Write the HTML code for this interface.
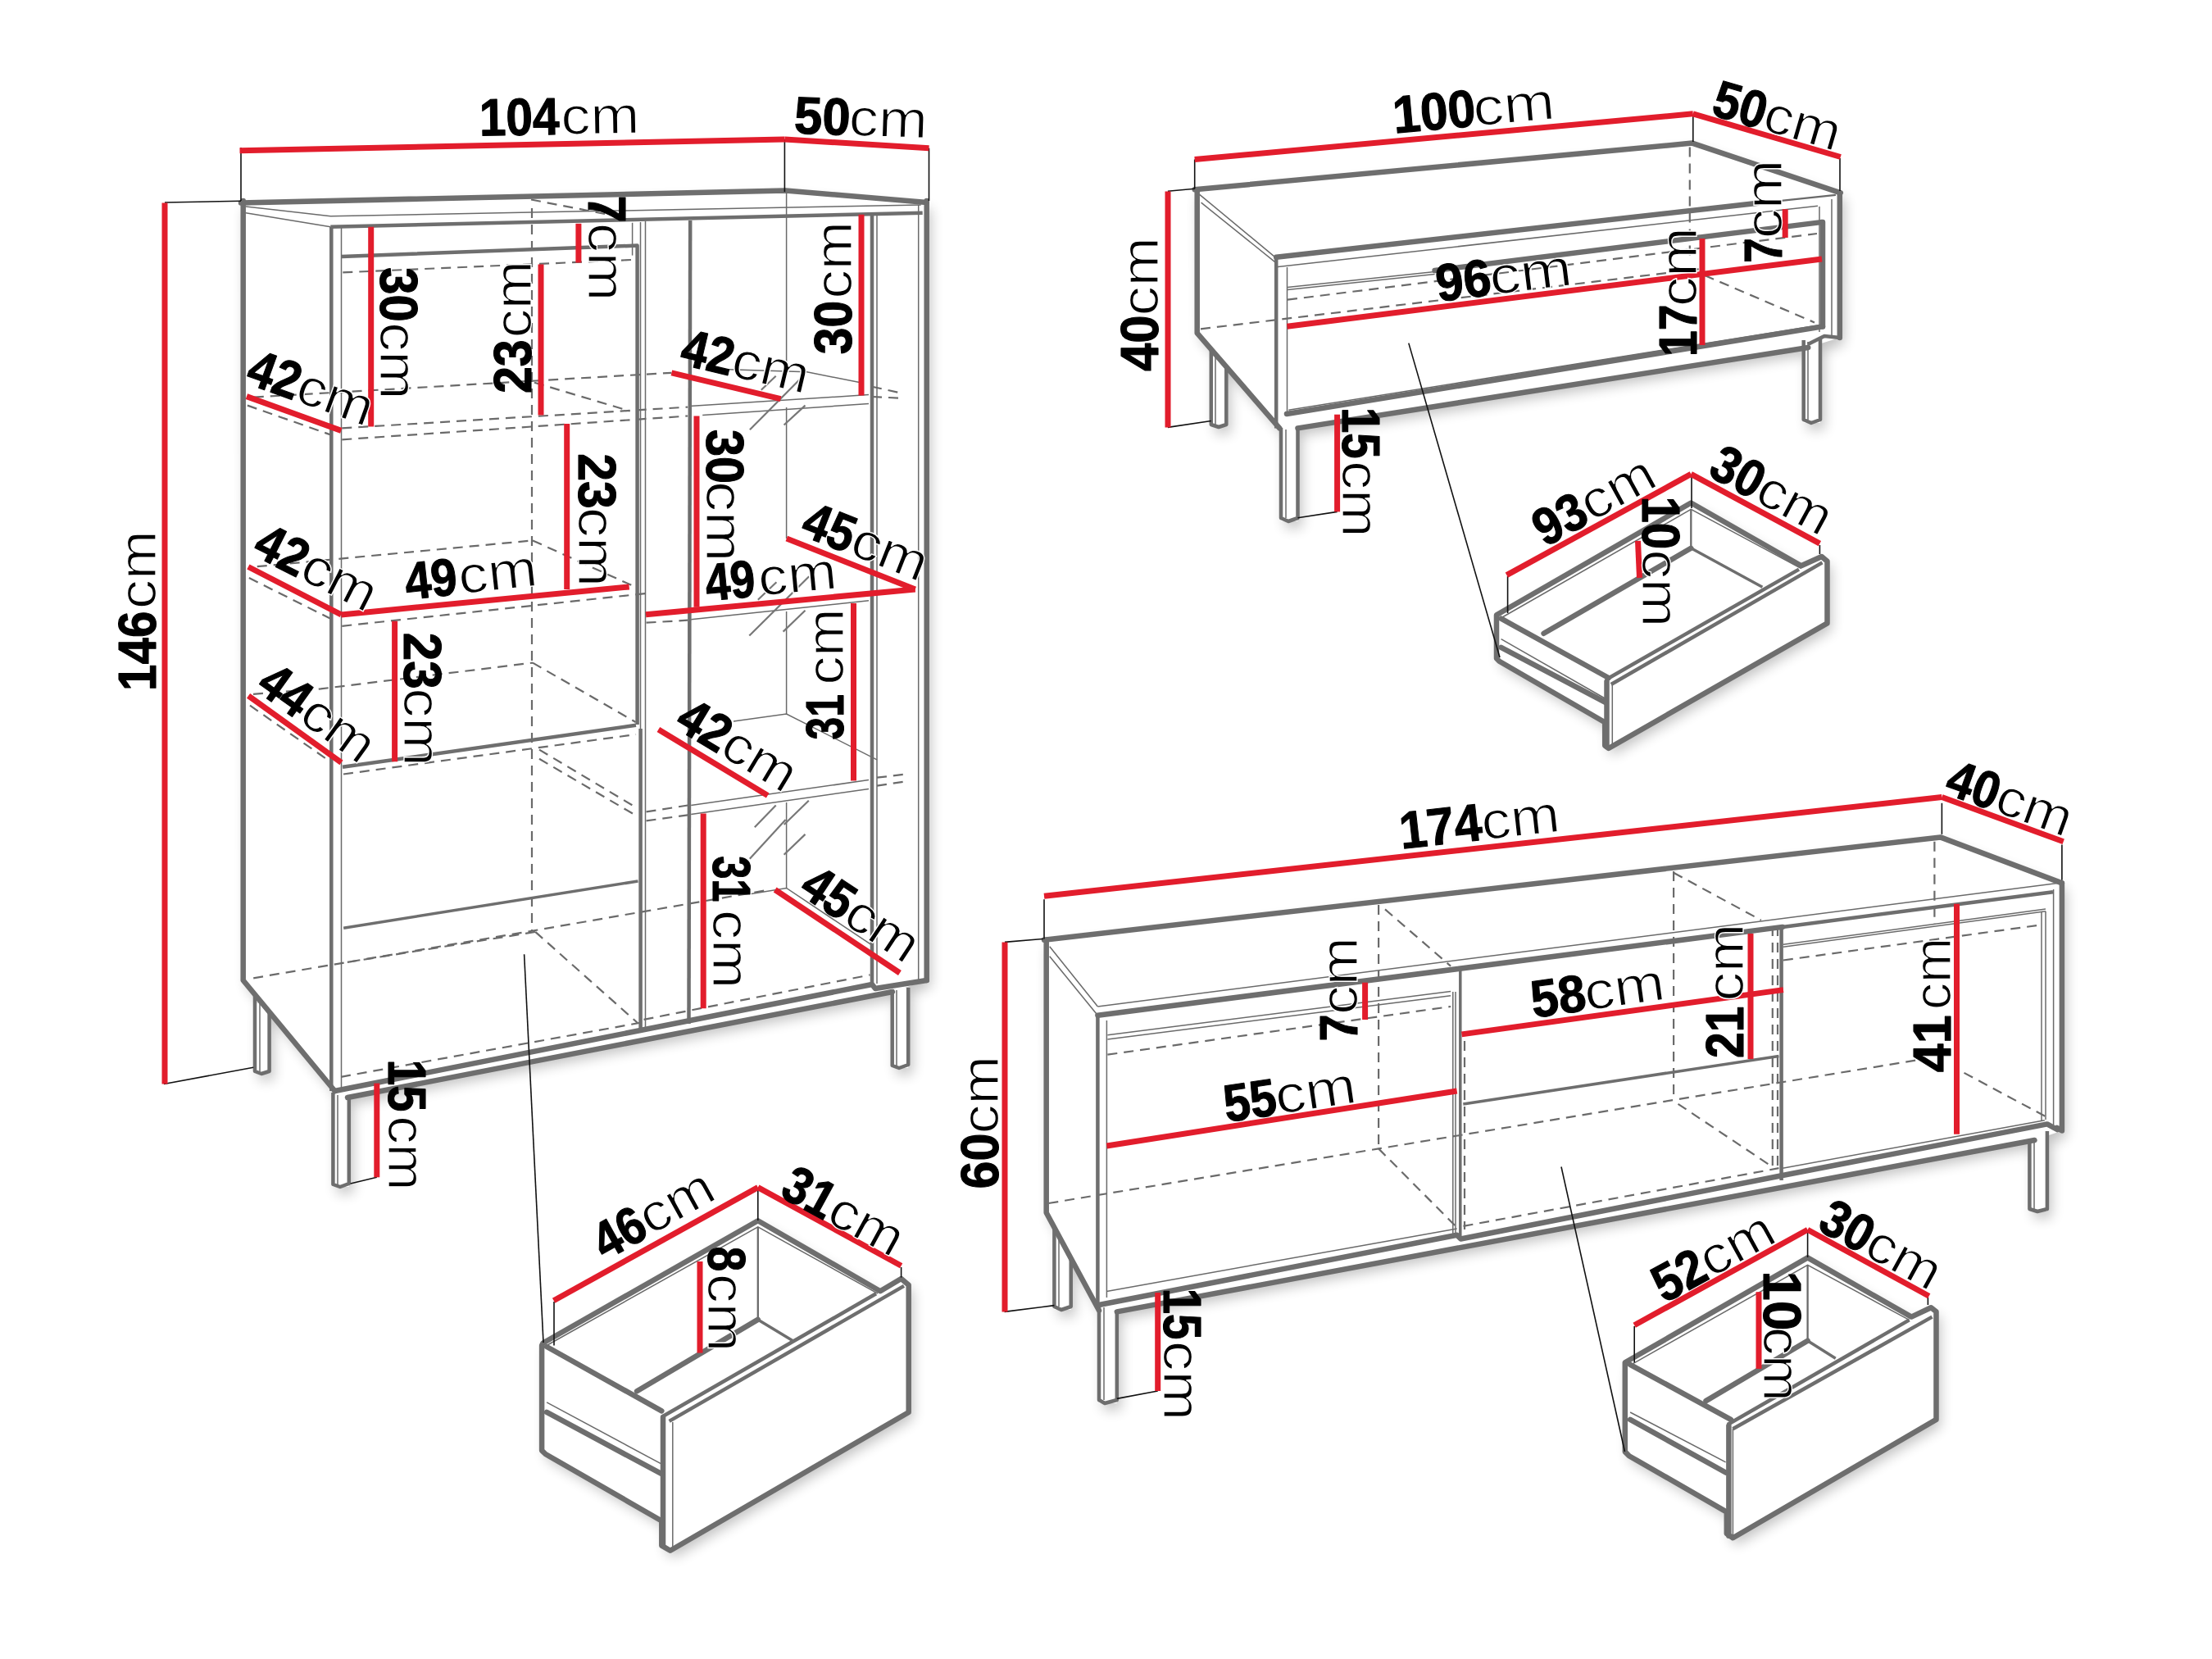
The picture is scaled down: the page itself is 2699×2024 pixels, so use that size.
<!DOCTYPE html><html><head><meta charset="utf-8"><title>Furniture dimensions</title><style>
html,body{margin:0;padding:0;background:#fff;overflow:hidden}
svg{display:block}
.r{stroke:#e21d2c;stroke-width:7;fill:none}
.g{stroke:#6e6e6e;stroke-width:6.5;fill:none;stroke-linejoin:round;stroke-linecap:round}
.m{stroke:#6e6e6e;stroke-width:4.5;fill:none;stroke-linejoin:round}
.m2{stroke:#6e6e6e;stroke-width:3.5;fill:none}
.t{stroke:#6a6a6a;stroke-width:1.5;fill:none}
.t2{stroke:#6a6a6a;stroke-width:2.3;fill:none}
.k{stroke:#111;stroke-width:1.6;fill:none}
.d{stroke:#6a6a6a;stroke-width:2.2;fill:none;stroke-dasharray:12 8}
.h{stroke:#777;stroke-width:2.2;fill:none}
text{font-family:"Liberation Sans",sans-serif;fill:#000}
.b{font-weight:bold;stroke:#000;stroke-width:1.1px;stroke-linejoin:round}
.c{stroke:#fff;stroke-width:1.3px;paint-order:fill}
</style></head><body>
<svg xmlns="http://www.w3.org/2000/svg" width="2699" height="2024" viewBox="0 0 2699 2024">
<rect width="2699" height="2024" fill="#fff"/>
<defs><filter id="sh" x="-10%" y="-10%" width="120%" height="120%"><feGaussianBlur stdDeviation="8"/><feOffset dx="5" dy="8"/></filter></defs>
<g filter="url(#sh)" fill="#000" opacity="0.24"><path d="M294,247.5 L958.6,232.5 L1130.7,247 L1130.7,1196 L1089,1210 L424,1339 L408.5,1331 L296.7,1196 Z"/><path d="M311,1224 H328.6 V1310 H311 Z"/><path d="M406.4,1333 H425.8 V1448 H406.4 Z"/><path d="M1088.7,1205 H1108.2 V1303 H1088.7 Z"/><path d="M1457.7,231.3 L2064.8,174.6 L2245.8,235.3 L2244.8,412 L2206,424 L1583.5,522.4 L1561.2,522.4 L1460.7,406.3 Z"/><path d="M1477.8,435 H1496.3 V521 H1477.8 Z"/><path d="M1563,522 H1583.5 V636 H1563 Z"/><path d="M2200.7,412 H2221 V516 H2200.7 Z"/><path d="M1826,750.2 L2063.3,613.5 L2197.8,690.3 L2222.7,679 L2229.5,684.7 V760.4 L1962.7,913 L1958.2,909.6 V881.3 L1829.4,806.7 L1826,803.3 Z"/><path d="M662.6,1638.5 L924.8,1489.3 L1074,1575.2 L1099.6,1560 L1108.7,1567.7 V1723 L817.8,1891.7 L807.3,1885.6 V1855.5 L665.6,1774 L661.1,1769.6 V1641.5 Z"/><path d="M1274,1146.7 L2367.6,1021.4 L2515.9,1077.4 L2515.9,1379.4 L2482.5,1391 L1362.8,1600.4 L1341,1598.8 L1276.7,1479.5 Z"/><path d="M1286.4,1508 H1306.7 V1598 H1286.4 Z"/><path d="M1341,1591 H1362.8 V1712 H1341 Z"/><path d="M2476.4,1380 H2497.9 V1478 H2476.4 Z"/><path d="M1982.8,1662.3 L2205.6,1534.4 L2332.2,1606.6 L2356.2,1595.2 L2362.5,1600.3 V1731.9 L2114.4,1876.2 L2106.8,1871.1 V1844.6 L1987.8,1776.2 L1982.8,1771.1 Z"/></g>
<g fill="#fff"><path d="M294,247.5 L958.6,232.5 L1130.7,247 L1130.7,1196 L1089,1210 L424,1339 L408.5,1331 L296.7,1196 Z"/><path d="M311,1224 H328.6 V1310 H311 Z"/><path d="M406.4,1333 H425.8 V1448 H406.4 Z"/><path d="M1088.7,1205 H1108.2 V1303 H1088.7 Z"/><path d="M1457.7,231.3 L2064.8,174.6 L2245.8,235.3 L2244.8,412 L2206,424 L1583.5,522.4 L1561.2,522.4 L1460.7,406.3 Z"/><path d="M1477.8,435 H1496.3 V521 H1477.8 Z"/><path d="M1563,522 H1583.5 V636 H1563 Z"/><path d="M2200.7,412 H2221 V516 H2200.7 Z"/><path d="M1826,750.2 L2063.3,613.5 L2197.8,690.3 L2222.7,679 L2229.5,684.7 V760.4 L1962.7,913 L1958.2,909.6 V881.3 L1829.4,806.7 L1826,803.3 Z"/><path d="M662.6,1638.5 L924.8,1489.3 L1074,1575.2 L1099.6,1560 L1108.7,1567.7 V1723 L817.8,1891.7 L807.3,1885.6 V1855.5 L665.6,1774 L661.1,1769.6 V1641.5 Z"/><path d="M1274,1146.7 L2367.6,1021.4 L2515.9,1077.4 L2515.9,1379.4 L2482.5,1391 L1362.8,1600.4 L1341,1598.8 L1276.7,1479.5 Z"/><path d="M1286.4,1508 H1306.7 V1598 H1286.4 Z"/><path d="M1341,1591 H1362.8 V1712 H1341 Z"/><path d="M2476.4,1380 H2497.9 V1478 H2476.4 Z"/><path d="M1982.8,1662.3 L2205.6,1534.4 L2332.2,1606.6 L2356.2,1595.2 L2362.5,1600.3 V1731.9 L2114.4,1876.2 L2106.8,1871.1 V1844.6 L1987.8,1776.2 L1982.8,1771.1 Z"/></g>
<path class="d" d="M418.3,332.4 L770,317"/>
<path class="d" d="M309.8,484.6 L819.4,454.8"/>
<path class="d" d="M652,466.7 L768.6,501.5"/>
<path class="d" d="M417.3,522.4 L839.2,496.6"/>
<path class="d" d="M417.3,536.3 L839.2,507.5"/>
<path class="d" d="M301.9,494.6 L403.3,530.4"/>
<path class="d" d="M313.8,691.2 L650,659.4"/>
<path class="d" d="M650,659.4 L775,716"/>
<path class="d" d="M303.9,705.1 L403.3,754.8"/>
<path class="d" d="M417.3,763.8 L788,724"/>
<path class="d" d="M309,846.8 L391.4,840.4 L650,808.6"/>
<path class="d" d="M650,808.6 L775.6,881"/>
<path class="d" d="M305,860.7 L404.5,930.3"/>
<path class="d" d="M419,944.5 L776,896"/>
<path class="d" d="M309.2,1193.3 L653.2,1135 L939,1085.5"/>
<path class="d" d="M653.2,1136.9 L777.7,1247.7"/>
<path class="d" d="M423.9,1173.9 L653.2,1136.9"/>
<path class="d" d="M416,1313.8 L781.6,1247.7"/>
<path class="d" d="M785.5,1243.9 L1061.5,1189.4"/>
<path class="d" d="M649,253.9 V1136"/>
<path class="d" d="M658,914.6 L774.8,984.3"/>
<path class="d" d="M658,925.8 L774.8,994.2"/>
<path class="d" d="M1064,471.7 L1099.8,479.6"/>
<path class="d" d="M1070,948.7 L1103.8,944.7"/>
<path class="d" d="M1070,958.6 L1103.8,953.6"/>
<path class="d" d="M788.5,759.7 L839.2,756.7"/>
<path class="d" d="M788.5,990.4 L839.2,982.5"/>
<path class="d" d="M788.5,1001.4 L839.2,994.4"/>
<path class="d" d="M1571,365.7 L2217,285"/>
<path class="d" d="M1465,401.3 L2080,327.5"/>
<path class="d" d="M2080,336 L2214,393.4"/>
<path class="d" d="M2061.8,179.6 V318.8"/>
<path class="d" d="M1351.4,1286.7 L1770.1,1228"/>
<path class="d" d="M1682.1,1104 V1400.7"/>
<path class="d" d="M1690,1109.4 L1770.1,1178.7"/>
<path class="d" d="M1279.4,1468 L1682.1,1401.4 L2042,1342 L2341,1293"/>
<path class="d" d="M1682.1,1401.4 L1776.1,1495.9"/>
<path class="d" d="M1785.5,1495.9 L2170.5,1425.2"/>
<path class="d" d="M2042.1,1063 V1341.4"/>
<path class="d" d="M2042.1,1064.8 L2148.8,1122.6"/>
<path class="d" d="M2047.5,1346.8 L2162.8,1423.7"/>
<path class="d" d="M2162.8,1130 V1430"/>
<path class="d" d="M2169,1130 V1430"/>
<path class="d" d="M1787,1270 V1500"/>
<path class="d" d="M2175.9,1171.5 L2492.4,1128.1"/>
<path class="d" d="M2360.4,1026.8 V1128"/>
<path class="d" d="M2396.5,1308.9 L2497.8,1363.1"/>
<path class="d" d="M648,243.5 L738,261"/>
<path class="d" d="M1064,484 L1103.8,486"/>
<path class="t" d="M299.9,251.9 L403.3,263.8 L1123.7,249.9"/>
<path class="t" d="M299.9,259.8 L403.3,276.7"/>
<path class="t" d="M416.5,277 V1331"/>
<path class="t" d="M771.6,271.8 V311.6"/>
<path class="t" d="M787.5,269.8 V1259"/>
<path class="t" d="M959.6,232 V452"/>
<path class="t" d="M959.6,497 V657"/>
<path class="t" d="M959.6,746 V871"/>
<path class="t" d="M959.6,979 V1083.5"/>
<path class="t" d="M1070,262 V1200"/>
<path class="t" d="M1120.7,250 V1196"/>
<path class="t" d="M889,450.8 L984.5,453.8 L1050,466.7"/>
<path class="t" d="M841.2,495.6 L1060,481.6"/>
<path class="t" d="M857.2,506.5 L1060,492.6"/>
<path class="t" d="M843.2,755.7 L1060,732.8"/>
<path class="t" d="M895,880 L959.6,871 L1070,926.8"/>
<path class="t" d="M843.2,982.5 L1060,951.6"/>
<path class="t" d="M843.2,993.4 L1060,962.6"/>
<path class="t" d="M916.8,1090.5 L959.6,1083.5 L1064,1153.2"/>
<path class="t" d="M317,1222 V1307"/>
<path class="t" d="M412,1336 V1445"/>
<path class="t" d="M1094,1208 V1300"/>
<path class="h" d="M928.8,475.7 L946.7,458.8"/>
<path class="h" d="M914.9,524.3 L979.4,459.3"/>
<path class="h" d="M956.6,518.5 L982.5,494.6"/>
<path class="h" d="M914.3,775.5 L987.2,703.3"/>
<path class="h" d="M955.6,770.6 L982.5,744.8"/>
<path class="h" d="M924.8,731.7 L947.4,710.2"/>
<path class="h" d="M920.8,1009.3 L946.7,982.5"/>
<path class="h" d="M956.7,1006 L986.8,976.8"/>
<path class="h" d="M914.8,1047.7 L958.6,1000"/>
<path class="h" d="M956.6,1042.8 L982.5,1017.9"/>
<path class="t2" d="M2145,247.8 L2239.9,237.9"/>
<path class="t" d="M1571,350.6 L1750.6,331.6"/>
<path class="t" d="M1571,353.5 L1750.6,334.5"/>
<path class="t" d="M1463.7,237.3 L1557.2,314.8"/>
<path class="t" d="M1465.6,247.2 L1557.2,320.8"/>
<path class="t" d="M1557.2,325.8 L2218,251.2"/>
<path class="t" d="M1570.5,326 V505"/>
<path class="t" d="M2220,252 V405"/>
<path class="t" d="M2235,243 V410"/>
<path class="t" d="M1572.3,500.2 L2221,396.4"/>
<path class="t" d="M1483,433 V518"/>
<path class="t" d="M1569,524 V632"/>
<path class="t" d="M2206,417 V512"/>
<path class="t2" d="M2063.3,621.4 V668.8"/>
<path class="t" d="M1967.3,836 V910.7"/>
<path class="t" d="M1834,752.5 L2063.3,621.4 L2197.8,693.7"/>
<path class="t" d="M1831.6,779.6 L1958.2,852"/>
<path class="t" d="M1967.3,836 V836"/>
<path class="t2" d="M924.8,1496.9 V1609.9"/>
<path class="t" d="M820.8,1735 V1888.7"/>
<path class="t" d="M667,1641.5 L924.8,1496.9 L1071,1578.2"/>
<path class="t" d="M667.1,1710.8 L807.3,1786.2"/>
<path class="t" d="M820.8,1735 V1735"/>
<path class="t" d="M2175.9,1152.3 L2496,1109"/>
<path class="t" d="M2491,1112 V1368"/>
<path class="t" d="M1351.4,1262.7 L1770.1,1209.4"/>
<path class="t" d="M1351.4,1268 L1770.1,1214.7"/>
<path class="t" d="M1772.8,1210 V1505"/>
<path class="t" d="M1776,1210 V1505"/>
<path class="t" d="M1350.4,1245 V1583"/>
<path class="t" d="M2175.9,1155.2 L2496,1111.8"/>
<path class="t" d="M2496,1111.8 V1366"/>
<path class="t" d="M2175.1,1425.2 L2494.8,1366.8"/>
<path class="t" d="M1350.4,1575.4 L1777.7,1499"/>
<path class="t" d="M1280.7,1154.7 L1339.4,1228"/>
<path class="t" d="M1280.7,1166.7 L1339.4,1238.7"/>
<path class="t" d="M1339.4,1228 L2510.4,1077.4"/>
<path class="t" d="M2505.6,1085 V1372"/>
<path class="t" d="M1292,1509 V1594"/>
<path class="t" d="M1347,1595 V1708"/>
<path class="t" d="M2482,1392 V1475"/>
<path class="t2" d="M2205.6,1543.3 V1635.7"/>
<path class="t" d="M2114.4,1743 V1875"/>
<path class="t" d="M1990.4,1664.8 L2205.6,1543.3 L2329.6,1610.4"/>
<path class="t" d="M1989.1,1723 L2105.6,1783.8"/>
<path class="t" d="M781.5,271 V889"/>
<path class="m" d="M404.3,277 V1331"/>
<path class="m" d="M403.3,276.7 L1125.7,259.8"/>
<path class="m" d="M417,313 L777.6,299.6 V884"/>
<path class="m" d="M418,935.8 L776,884.8"/>
<path class="m" d="M781.6,889 V1259"/>
<path class="m" d="M842.2,269 L840.5,1249"/>
<path class="m" d="M1064,261.8 V1201"/>
<path class="m2" d="M419.2,1132.2 L778.5,1075"/>
<path class="m" d="M311,1213 V1307 L319,1310 L328.6,1307 V1234"/>
<path class="m" d="M406.4,1333 V1445 L415,1448 L425.8,1444 V1339"/>
<path class="m" d="M1088.7,1207 V1300 L1097,1303 L1108.2,1299 V1205"/>
<path class="m" d="M1557.2,314.8 V522.4"/>
<path class="m" d="M2206,420 L2226,410 L2244.8,412"/>
<path class="m" d="M1477.8,426 V518 L1487,521 L1496.3,518 V447"/>
<path class="m" d="M1563,522 V632 L1572,636 L1583.5,632 V524"/>
<path class="m" d="M2200.7,415 V512 L2210,516 L2221,512 V412"/>
<path class="m" d="M1959,829.5 L2195,694.6"/>
<path class="m" d="M1965.8,835 L2223.5,686.4"/>
<path class="m2" d="M2063.3,668.8 L2150.4,716.3"/>
<path class="m" d="M808.7,1728 L1069,1578.3"/>
<path class="m" d="M816.6,1733.9 L1103,1568.9"/>
<path class="m2" d="M924.8,1609.9 L967,1635.5"/>
<path class="m" d="M2175,1130.9 L2505,1088.3"/>
<path class="m" d="M1339.4,1238.7 V1590"/>
<path class="m2" d="M1785.3,1346.9 L2170.5,1288.4"/>
<path class="m" d="M2173.6,1131 V1440"/>
<path class="m2" d="M1781.8,1180 V1510"/>
<path class="m" d="M1286.4,1498 V1594 L1295,1598 L1306.7,1594 V1535"/>
<path class="m" d="M1341,1591 V1708 L1348,1712 L1362.8,1708 V1600"/>
<path class="m" d="M2476.4,1391 V1475 L2486,1478 L2497.9,1475 V1380"/>
<path class="m" d="M2108,1738 L2329.6,1610.4"/>
<path class="m" d="M2114.4,1743.3 L2357.5,1606.6"/>
<path class="m2" d="M2205.6,1635.7 L2239.7,1657.2"/>
<path class="g" d="M294,247.5 L958.6,232.5 L1130.7,247"/>
<path class="g" d="M296.7,245 V1196 L408.5,1331"/>
<path class="g" d="M1130.7,245 V1196"/>
<path class="g" d="M408.5,1331 L1064,1201 L1068,1206 L1130.7,1196"/>
<path class="g" d="M424,1339 L1089,1210"/>
<path class="g" d="M1457.7,231.3 L2064.8,174.6 L2245.8,235.3"/>
<path class="g" d="M1460.7,231.3 V406.3 L1561.2,522.4"/>
<path class="g" d="M2244.8,235.3 V412"/>
<path class="g" d="M1557.2,313.8 L2145,247.8"/>
<path class="g" d="M1750.6,330 L2222,271.1 L2224,271 V398.4"/>
<path class="g" d="M1570,505 L2224,398.4"/>
<path class="g" d="M1583.5,522.4 L2206.2,424"/>
<path class="g" d="M1826,750.2 L2063.3,613.5 L2197.8,690.3 L2222.7,679 L2229.5,684.7 V760.4 L1962.7,913 L1958.2,909.6 V881.3 L1829.4,806.7 L1826,803.3 Z"/>
<path class="g" d="M1960.5,831.6 V910.7"/>
<path class="g" d="M1883.6,772.8 L2063.3,668.8"/>
<path class="g" d="M1831.6,754.7 L1962.7,827"/>
<path class="g" d="M1831.6,789.8 L1958.2,856.5"/>
<path class="g" d="M662.6,1638.5 L924.8,1489.3 L1074,1575.2 L1099.6,1560 L1108.7,1567.7 V1723 L817.8,1891.7 L807.3,1885.6 V1855.5 L665.6,1774 L661.1,1769.6 V1641.5 Z"/>
<path class="g" d="M809,1729 V1885"/>
<path class="g" d="M777.1,1697.3 L924.8,1609.9"/>
<path class="g" d="M667.1,1643 L807.3,1721.4"/>
<path class="g" d="M667.1,1722.9 L807.3,1798.2"/>
<path class="g" d="M1274,1146.7 L2367.6,1021.4 L2515.9,1077.4"/>
<path class="g" d="M1276.7,1146.7 V1479.5 L1341,1598.8"/>
<path class="g" d="M2515.9,1077.4 V1379.4 L2510,1376"/>
<path class="g" d="M1339.4,1238.7 L2175,1130.9"/>
<path class="g" d="M1341,1592 L1777.7,1506.8 L1782.4,1511.5 L2175.1,1434 L2497.9,1371.4 L2510,1378"/>
<path class="g" d="M1362.8,1600.4 L2482.5,1391"/>
<path class="g" d="M1982.8,1662.3 L2205.6,1534.4 L2332.2,1606.6 L2356.2,1595.2 L2362.5,1600.3 V1731.9 L2114.4,1876.2 L2106.8,1871.1 V1844.6 L1987.8,1776.2 L1982.8,1771.1 Z"/>
<path class="g" d="M2109.4,1739.5 V1873.7"/>
<path class="g" d="M2081.5,1709.1 L2205.6,1635.7"/>
<path class="g" d="M1989.1,1664.8 L2111.9,1731.9"/>
<path class="g" d="M1989.1,1731.9 L2105.6,1796.5"/>
<path class="k" d="M201,247 L294,245.3"/>
<path class="k" d="M294,180 V245"/>
<path class="k" d="M957.4,170 V234"/>
<path class="k" d="M1133.5,180.7 V245"/>
<path class="k" d="M200,1322.5 L309.2,1302.2"/>
<path class="k" d="M427.7,1444 L459.8,1436.3"/>
<path class="k" d="M639.6,1164.2 L663,1638"/>
<path class="k" d="M1424.9,233.3 L1457.7,230.3"/>
<path class="k" d="M1457.7,194.5 V230.3"/>
<path class="k" d="M2065.8,140 V173"/>
<path class="k" d="M2245,193 V233"/>
<path class="k" d="M1424.9,521.4 L1477.8,513.5"/>
<path class="k" d="M1583.5,631.8 L1631.6,624.4"/>
<path class="k" d="M1718.8,418.6 L1830,802"/>
<path class="k" d="M1839.6,703 V748"/>
<path class="k" d="M2064,582 V620"/>
<path class="k" d="M2220.4,665 V676"/>
<path class="k" d="M676,1588 V1641.5"/>
<path class="k" d="M924.8,1451 V1489"/>
<path class="k" d="M1099.6,1546 V1558.6"/>
<path class="k" d="M1226,1149.4 L1272.7,1145.4"/>
<path class="k" d="M1274,1097.3 V1145.4"/>
<path class="k" d="M2369.4,979.8 V1017.8"/>
<path class="k" d="M2515.9,1030.4 V1073.8"/>
<path class="k" d="M1225.6,1600.4 L1286.4,1592.6"/>
<path class="k" d="M1362.8,1706.4 L1412.7,1697"/>
<path class="k" d="M1905,1423.5 L1982.5,1771"/>
<path class="k" d="M1994.2,1618 V1662.3"/>
<path class="k" d="M2205.6,1503 V1534"/>
<path class="k" d="M2352.4,1582.5 V1592"/>
<path class="r" d="M201,247.5 V1322.5"/>
<path class="r" d="M292.5,183.8 L957.4,170"/>
<path class="r" d="M957.4,170 L1133.5,180.7"/>
<path class="r" d="M452.7,276.7 V520.4"/>
<path class="r" d="M300.9,483.6 L416.3,525.4"/>
<path class="r" d="M660,322.5 V506.5"/>
<path class="r" d="M705.9,272.8 V320.5"/>
<path class="r" d="M691.7,517 V719"/>
<path class="r" d="M416.3,749.9 L767.7,715.9"/>
<path class="r" d="M302.9,691.5 L416.3,749.9"/>
<path class="r" d="M481.6,757.8 V929.3"/>
<path class="r" d="M303.1,848.8 L416.5,930.3"/>
<path class="r" d="M1051,261.8 V482.6"/>
<path class="r" d="M819.4,454.8 L952.6,486.6"/>
<path class="r" d="M850,507.5 V740.7"/>
<path class="r" d="M788,749.8 L1116.7,718.9"/>
<path class="r" d="M959.8,657 L1116.7,718.9"/>
<path class="r" d="M1041.5,736 V952.6"/>
<path class="r" d="M803.4,890 L936.7,970.5"/>
<path class="r" d="M858.2,992.4 V1230.2"/>
<path class="r" d="M945.7,1085.5 L1097.9,1187"/>
<path class="r" d="M459.8,1321.6 V1436.3"/>
<path class="r" d="M1457.7,194.5 L2065.8,138.8"/>
<path class="r" d="M2065.8,138.8 L2245.8,191.5"/>
<path class="r" d="M1425,233.5 V521.4"/>
<path class="r" d="M1631.6,505.7 V624.4"/>
<path class="r" d="M1570.5,398.2 L2223,316"/>
<path class="r" d="M2077,291 V421"/>
<path class="r" d="M2178.2,255.2 V290"/>
<path class="r" d="M1838.4,701.6 L2063.3,578.4"/>
<path class="r" d="M2063.3,578.4 L2220.4,663.2"/>
<path class="r" d="M1998.5,659.8 L2000.5,705"/>
<path class="r" d="M675.6,1586.7 L924.8,1448.6"/>
<path class="r" d="M924.8,1448.6 L1099.6,1544.2"/>
<path class="r" d="M854,1539 V1650.6"/>
<path class="r" d="M1274,1093.3 L2369.4,972.5"/>
<path class="r" d="M2369.4,972.5 L2517.7,1026.8"/>
<path class="r" d="M1226,1149.4 V1600.4"/>
<path class="r" d="M1412.7,1577 V1697"/>
<path class="r" d="M1350.4,1398 L1777.7,1331"/>
<path class="r" d="M1665.6,1198.7 V1244"/>
<path class="r" d="M1783.5,1261.9 L2175.9,1207.6"/>
<path class="r" d="M2136,1138.9 V1292"/>
<path class="r" d="M2387.5,1102.7 V1383.7"/>
<path class="r" d="M1994.2,1616.7 L2205.6,1500.3"/>
<path class="r" d="M2205.6,1500.3 L2353.7,1581.3"/>
<path class="r" d="M2146,1576.2 V1669.9"/>
<g transform="translate(167.7,745.7) rotate(-90) translate(-97.2,22)" font-size="64"><text class="b" x="0" y="0" textLength="97.3" lengthAdjust="spacingAndGlyphs">146</text><text class="c" x="100.0" y="0" textLength="95.4" lengthAdjust="spacingAndGlyphs">cm</text></g>
<g transform="translate(486.1,405.2) rotate(90) translate(-78.9,22)" font-size="64"><text class="b" x="0" y="0" textLength="66.4" lengthAdjust="spacingAndGlyphs">30</text><text class="c" x="66.9" y="0" textLength="94.3" lengthAdjust="spacingAndGlyphs">cm</text></g>
<g transform="translate(626.1,400.4) rotate(-90) translate(-79.7,22)" font-size="64"><text class="b" x="0" y="0" textLength="65.9" lengthAdjust="spacingAndGlyphs">23</text><text class="c" x="67.8" y="0" textLength="94.2" lengthAdjust="spacingAndGlyphs">cm</text></g>
<g transform="translate(739.7,301.9) rotate(90) translate(-63.3,22)" font-size="64"><text class="b" x="0" y="0" textLength="33.1" lengthAdjust="spacingAndGlyphs">7</text><text class="c" x="33.4" y="0" textLength="95.2" lengthAdjust="spacingAndGlyphs">cm</text></g>
<g transform="translate(1016.7,352.9) rotate(-90) translate(-79.4,22)" font-size="64"><text class="b" x="0" y="0" textLength="65.4" lengthAdjust="spacingAndGlyphs">30</text><text class="c" x="67.9" y="0" textLength="94.2" lengthAdjust="spacingAndGlyphs">cm</text></g>
<g transform="translate(728.1,633.4) rotate(90) translate(-80.1,22)" font-size="64"><text class="b" x="0" y="0" textLength="67.6" lengthAdjust="spacingAndGlyphs">23</text><text class="c" x="65.6" y="0" textLength="97.2" lengthAdjust="spacingAndGlyphs">cm</text></g>
<g transform="translate(884.1,602.9) rotate(90) translate(-78.9,22)" font-size="64"><text class="b" x="0" y="0" textLength="65.9" lengthAdjust="spacingAndGlyphs">30</text><text class="c" x="63.3" y="0" textLength="98.0" lengthAdjust="spacingAndGlyphs">cm</text></g>
<g transform="translate(515.1,852.0) rotate(90) translate(-80.2,22)" font-size="64"><text class="b" x="0" y="0" textLength="69.0" lengthAdjust="spacingAndGlyphs">23</text><text class="c" x="67.7" y="0" textLength="95.2" lengthAdjust="spacingAndGlyphs">cm</text></g>
<g transform="translate(1006.9,824.2) rotate(-90) translate(-78.2,22)" font-size="64"><text class="b" x="0" y="0" textLength="55.2" lengthAdjust="spacingAndGlyphs">31</text><text class="c" x="66.8" y="0" textLength="93.2" lengthAdjust="spacingAndGlyphs">cm</text></g>
<g transform="translate(892.3,1123.4) rotate(90) translate(-79.2,22)" font-size="64"><text class="b" x="0" y="0" textLength="56.3" lengthAdjust="spacingAndGlyphs">31</text><text class="c" x="65.7" y="0" textLength="96.3" lengthAdjust="spacingAndGlyphs">cm</text></g>
<g transform="translate(495.7,1372.1) rotate(90) translate(-79.5,22)" font-size="64"><text class="b" x="0" y="0" textLength="63.6" lengthAdjust="spacingAndGlyphs">15</text><text class="c" x="68.8" y="0" textLength="91.0" lengthAdjust="spacingAndGlyphs">cm</text></g>
<g transform="translate(885.9,1583.5) rotate(90) translate(-62.7,22)" font-size="64"><text class="b" x="0" y="0" textLength="30.5" lengthAdjust="spacingAndGlyphs">8</text><text class="c" x="33.3" y="0" textLength="95.1" lengthAdjust="spacingAndGlyphs">cm</text></g>
<g transform="translate(1390.5,373.0) rotate(-90) translate(-79.9,22)" font-size="64"><text class="b" x="0" y="0" textLength="68.5" lengthAdjust="spacingAndGlyphs">40</text><text class="c" x="67.6" y="0" textLength="96.0" lengthAdjust="spacingAndGlyphs">cm</text></g>
<g transform="translate(2048.3,356.7) rotate(-90) translate(-78.4,22)" font-size="64"><text class="b" x="0" y="0" textLength="63.6" lengthAdjust="spacingAndGlyphs">17</text><text class="c" x="61.1" y="0" textLength="96.9" lengthAdjust="spacingAndGlyphs">cm</text></g>
<g transform="translate(2151.7,259.1) rotate(-90) translate(-62.0,22)" font-size="64"><text class="b" x="0" y="0" textLength="30.6" lengthAdjust="spacingAndGlyphs">7</text><text class="c" x="30.1" y="0" textLength="96.3" lengthAdjust="spacingAndGlyphs">cm</text></g>
<g transform="translate(1659.9,575.5) rotate(90) translate(-78.6,22)" font-size="64"><text class="b" x="0" y="0" textLength="62.5" lengthAdjust="spacingAndGlyphs">15</text><text class="c" x="65.4" y="0" textLength="92.9" lengthAdjust="spacingAndGlyphs">cm</text></g>
<g transform="translate(2026.1,684.8) rotate(90) translate(-79.4,22)" font-size="64"><text class="b" x="0" y="0" textLength="64.8" lengthAdjust="spacingAndGlyphs">10</text><text class="c" x="65.0" y="0" textLength="94.7" lengthAdjust="spacingAndGlyphs">cm</text></g>
<g transform="translate(1196.1,1370.4) rotate(-90) translate(-80.0,22)" font-size="64"><text class="b" x="0" y="0" textLength="67.7" lengthAdjust="spacingAndGlyphs">60</text><text class="c" x="67.2" y="0" textLength="95.2" lengthAdjust="spacingAndGlyphs">cm</text></g>
<g transform="translate(1634.3,1208.0) rotate(-90) translate(-62.6,22)" font-size="64"><text class="b" x="0" y="0" textLength="33.2" lengthAdjust="spacingAndGlyphs">7</text><text class="c" x="32.9" y="0" textLength="94.4" lengthAdjust="spacingAndGlyphs">cm</text></g>
<g transform="translate(2104.5,1210.4) rotate(-90) translate(-80.6,22)" font-size="64"><text class="b" x="0" y="0" textLength="63.3" lengthAdjust="spacingAndGlyphs">21</text><text class="c" x="69.5" y="0" textLength="94.5" lengthAdjust="spacingAndGlyphs">cm</text></g>
<g transform="translate(2357.5,1227.7) rotate(-90) translate(-80.5,22)" font-size="64"><text class="b" x="0" y="0" textLength="69.7" lengthAdjust="spacingAndGlyphs">41</text><text class="c" x="76.2" y="0" textLength="88.2" lengthAdjust="spacingAndGlyphs">cm</text></g>
<g transform="translate(1442.1,1651.7) rotate(90) translate(-80.0,22)" font-size="64"><text class="b" x="0" y="0" textLength="62.8" lengthAdjust="spacingAndGlyphs">15</text><text class="c" x="64.4" y="0" textLength="96.8" lengthAdjust="spacingAndGlyphs">cm</text></g>
<g transform="translate(2174.3,1630.0) rotate(90) translate(-79.4,22)" font-size="64"><text class="b" x="0" y="0" textLength="72.6" lengthAdjust="spacingAndGlyphs">10</text><text class="c" x="68.3" y="0" textLength="90.9" lengthAdjust="spacingAndGlyphs">cm</text></g>
<g transform="translate(682.0,141.9) rotate(-1) translate(-97.2,22)" font-size="64"><text class="b" x="0" y="0" textLength="97.7" lengthAdjust="spacingAndGlyphs">104</text><text class="c" x="99.6" y="0" textLength="95.8" lengthAdjust="spacingAndGlyphs">cm</text></g>
<g transform="translate(1049.2,143.4) rotate(2) translate(-79.9,22)" font-size="64"><text class="b" x="0" y="0" textLength="68.4" lengthAdjust="spacingAndGlyphs">50</text><text class="c" x="66.8" y="0" textLength="95.8" lengthAdjust="spacingAndGlyphs">cm</text></g>
<g transform="translate(378.0,472.3) rotate(19.9) translate(-77.4,22)" font-size="64"><text class="b" x="0" y="0" textLength="64.2" lengthAdjust="spacingAndGlyphs">42</text><text class="c" x="63.9" y="0" textLength="94.7" lengthAdjust="spacingAndGlyphs">cm</text></g>
<g transform="translate(908.1,440.2) rotate(13.4) translate(-77.4,22)" font-size="64"><text class="b" x="0" y="0" textLength="64.2" lengthAdjust="spacingAndGlyphs">42</text><text class="c" x="63.9" y="0" textLength="94.7" lengthAdjust="spacingAndGlyphs">cm</text></g>
<g transform="translate(384.9,691.4) rotate(27) translate(-77.4,22)" font-size="64"><text class="b" x="0" y="0" textLength="64.2" lengthAdjust="spacingAndGlyphs">42</text><text class="c" x="63.9" y="0" textLength="94.7" lengthAdjust="spacingAndGlyphs">cm</text></g>
<g transform="translate(572.6,701.4) rotate(-6.2) translate(-79.0,22)" font-size="64"><text class="b" x="0" y="0" textLength="63.7" lengthAdjust="spacingAndGlyphs">49</text><text class="c" x="65.5" y="0" textLength="96.3" lengthAdjust="spacingAndGlyphs">cm</text></g>
<g transform="translate(938.7,703.8) rotate(-5.5) translate(-78.3,22)" font-size="64"><text class="b" x="0" y="0" textLength="60.5" lengthAdjust="spacingAndGlyphs">49</text><text class="c" x="64.5" y="0" textLength="96.0" lengthAdjust="spacingAndGlyphs">cm</text></g>
<g transform="translate(1054.9,660.0) rotate(21.5) translate(-77.4,22)" font-size="64"><text class="b" x="0" y="0" textLength="63.5" lengthAdjust="spacingAndGlyphs">45</text><text class="c" x="63.8" y="0" textLength="94.7" lengthAdjust="spacingAndGlyphs">cm</text></g>
<g transform="translate(386.1,868.6) rotate(35.7) translate(-77.3,22)" font-size="64"><text class="b" x="0" y="0" textLength="62.1" lengthAdjust="spacingAndGlyphs">44</text><text class="c" x="63.8" y="0" textLength="94.7" lengthAdjust="spacingAndGlyphs">cm</text></g>
<g transform="translate(898.8,907.9) rotate(31.1) translate(-77.4,22)" font-size="64"><text class="b" x="0" y="0" textLength="64.2" lengthAdjust="spacingAndGlyphs">42</text><text class="c" x="63.9" y="0" textLength="94.7" lengthAdjust="spacingAndGlyphs">cm</text></g>
<g transform="translate(1049.4,1113.9) rotate(33.5) translate(-77.4,22)" font-size="64"><text class="b" x="0" y="0" textLength="63.5" lengthAdjust="spacingAndGlyphs">45</text><text class="c" x="63.8" y="0" textLength="94.7" lengthAdjust="spacingAndGlyphs">cm</text></g>
<g transform="translate(795.0,1481.7) rotate(-29) translate(-77.4,22)" font-size="64"><text class="b" x="0" y="0" textLength="63.9" lengthAdjust="spacingAndGlyphs">46</text><text class="c" x="63.9" y="0" textLength="94.7" lengthAdjust="spacingAndGlyphs">cm</text></g>
<g transform="translate(1028.2,1476.5) rotate(28.7) translate(-77.8,22)" font-size="64"><text class="b" x="0" y="0" textLength="63.9" lengthAdjust="spacingAndGlyphs">31</text><text class="c" x="64.3" y="0" textLength="94.7" lengthAdjust="spacingAndGlyphs">cm</text></g>
<g transform="translate(1797.4,131.7) rotate(-5.2) translate(-98.3,22)" font-size="64"><text class="b" x="0" y="0" textLength="100.8" lengthAdjust="spacingAndGlyphs">100</text><text class="c" x="98.1" y="0" textLength="99.6" lengthAdjust="spacingAndGlyphs">cm</text></g>
<g transform="translate(2167.5,140.7) rotate(16.3) translate(-78.3,22)" font-size="64"><text class="b" x="0" y="0" textLength="65.2" lengthAdjust="spacingAndGlyphs">50</text><text class="c" x="64.8" y="0" textLength="94.7" lengthAdjust="spacingAndGlyphs">cm</text></g>
<g transform="translate(1833.3,336.0) rotate(-7.1) translate(-81.8,22)" font-size="64"><text class="b" x="0" y="0" textLength="67.3" lengthAdjust="spacingAndGlyphs">96</text><text class="c" x="65.6" y="0" textLength="100.9" lengthAdjust="spacingAndGlyphs">cm</text></g>
<g transform="translate(1943.3,611.1) rotate(-28.7) translate(-78.5,22)" font-size="64"><text class="b" x="0" y="0" textLength="65.1" lengthAdjust="spacingAndGlyphs">93</text><text class="c" x="65.0" y="0" textLength="94.7" lengthAdjust="spacingAndGlyphs">cm</text></g>
<g transform="translate(2160.9,597.0) rotate(28.4) translate(-77.8,22)" font-size="64"><text class="b" x="0" y="0" textLength="64.7" lengthAdjust="spacingAndGlyphs">30</text><text class="c" x="64.3" y="0" textLength="94.7" lengthAdjust="spacingAndGlyphs">cm</text></g>
<g transform="translate(1804.6,1003.1) rotate(-6.4) translate(-97.7,22)" font-size="64"><text class="b" x="0" y="0" textLength="100.8" lengthAdjust="spacingAndGlyphs">174</text><text class="c" x="100.5" y="0" textLength="95.8" lengthAdjust="spacingAndGlyphs">cm</text></g>
<g transform="translate(2451.1,973.1) rotate(20) translate(-77.4,22)" font-size="64"><text class="b" x="0" y="0" textLength="64.2" lengthAdjust="spacingAndGlyphs">40</text><text class="c" x="63.9" y="0" textLength="94.7" lengthAdjust="spacingAndGlyphs">cm</text></g>
<g transform="translate(1572.1,1335.4) rotate(-8.5) translate(-79.7,22)" font-size="64"><text class="b" x="0" y="0" textLength="64.4" lengthAdjust="spacingAndGlyphs">55</text><text class="c" x="63.1" y="0" textLength="99.5" lengthAdjust="spacingAndGlyphs">cm</text></g>
<g transform="translate(1947.8,1208.8) rotate(-7.9) translate(-80.5,22)" font-size="64"><text class="b" x="0" y="0" textLength="67.0" lengthAdjust="spacingAndGlyphs">58</text><text class="c" x="65.6" y="0" textLength="98.4" lengthAdjust="spacingAndGlyphs">cm</text></g>
<g transform="translate(2088.8,1533.6) rotate(-28.8) translate(-78.3,22)" font-size="64"><text class="b" x="0" y="0" textLength="65.1" lengthAdjust="spacingAndGlyphs">52</text><text class="c" x="64.8" y="0" textLength="94.7" lengthAdjust="spacingAndGlyphs">cm</text></g>
<g transform="translate(2294.2,1517.3) rotate(28.7) translate(-77.8,22)" font-size="64"><text class="b" x="0" y="0" textLength="64.7" lengthAdjust="spacingAndGlyphs">30</text><text class="c" x="64.3" y="0" textLength="94.7" lengthAdjust="spacingAndGlyphs">cm</text></g>
</svg></body></html>
